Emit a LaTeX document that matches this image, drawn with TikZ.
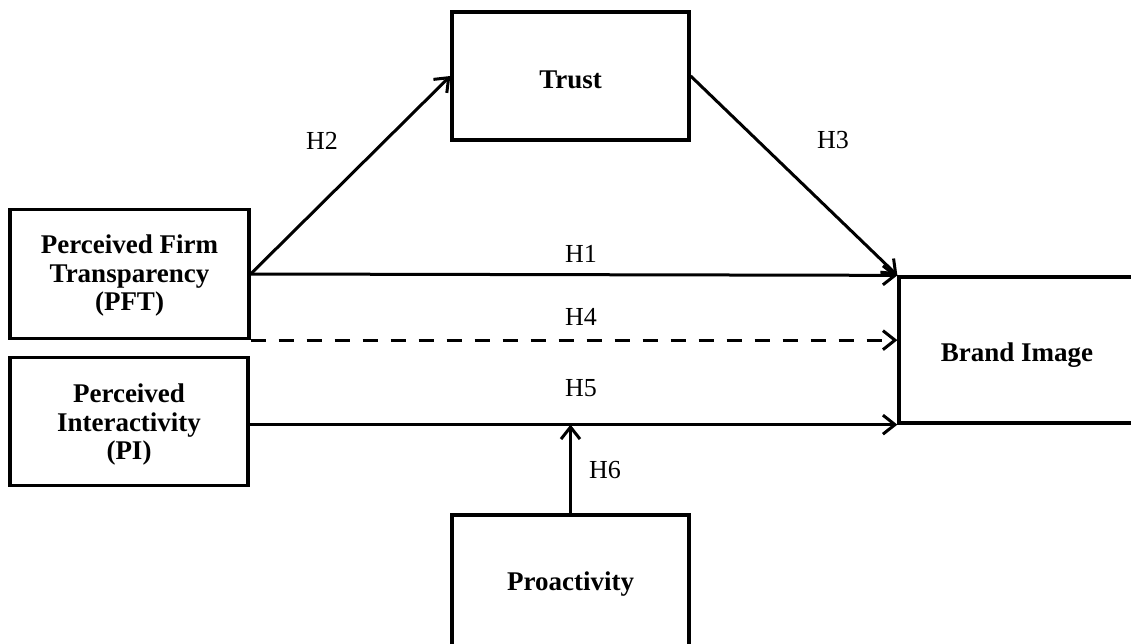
\documentclass[tikz,border=0pt]{standalone}
\usepackage{fontspec}
\setmainfont{Liberation Serif}
\usetikzlibrary{arrows.meta}
\begin{document}
\begin{tikzpicture}[x=1pt,y=-1pt,
  box/.style={draw, line width=3.3pt, rectangle, inner sep=0pt},
  btext/.style={align=center, font=\fontsize{27}{28.5}\selectfont\bfseries, inner sep=0pt},
  conn/.style={line width=3pt, -{Straight Barb[length=12pt,width=19pt,line width=3pt]}},
  hlab/.style={font=\fontsize{26}{28}\selectfont, inner sep=0pt}]
\clip (0,0) rectangle (1131,644);
\fill[white] (0,0) rectangle (1131,644);
\node[box, minimum width=237pt, minimum height=128pt] (trust) at (570.5,76) {};
\node[btext] (trusttext) at (570.5,80) {Trust};
\node[box, minimum width=239pt, minimum height=129pt] (pft) at (129.5,274) {};
\node[btext] (pfttext) at (129.5,276) {Perceived Firm\\Transparency\\(PFT)};
\node[box, minimum width=238pt, minimum height=128pt] (pi) at (129,421.5) {};
\node[btext] (pitext) at (129,425) {Perceived\\Interactivity\\(PI)};
\node[box, minimum width=236pt, minimum height=146pt] (bi) at (1017,350) {};
\node[btext] (bitext) at (1017,355) {Brand Image};
\node[box, minimum width=237pt, minimum height=160pt] (pro) at (570.5,595) {};
\node[btext] (protext) at (570.5,584) {Proactivity};
\coordinate (pftout) at (pft.east);
\draw[conn] (pftout) -- (trust.west);
\draw[conn] (trust.east) -- (bi.north west);
\draw[conn] (pftout) -- (bi.north west);
\draw[conn, dash pattern=on 15pt off 13pt] (pft.south east) -- (bi.west |- pft.south east);
\draw[conn] (pi.east |- bi.south west) -- (bi.south west);
\coordinate (h6end) at (pro.north |- bi.south);
\draw[conn] (pro.north) -- (h6end);
\node[hlab] (h2) at (322,141) {H2};
\node[hlab] (h3) at (833,140) {H3};
\node[hlab] (h1) at (581,254) {H1};
\node[hlab] (h4) at (581,317) {H4};
\node[hlab] (h5) at (581,388) {H5};
\node[hlab] (h6) at (605,470) {H6};
\end{tikzpicture}
\end{document}
